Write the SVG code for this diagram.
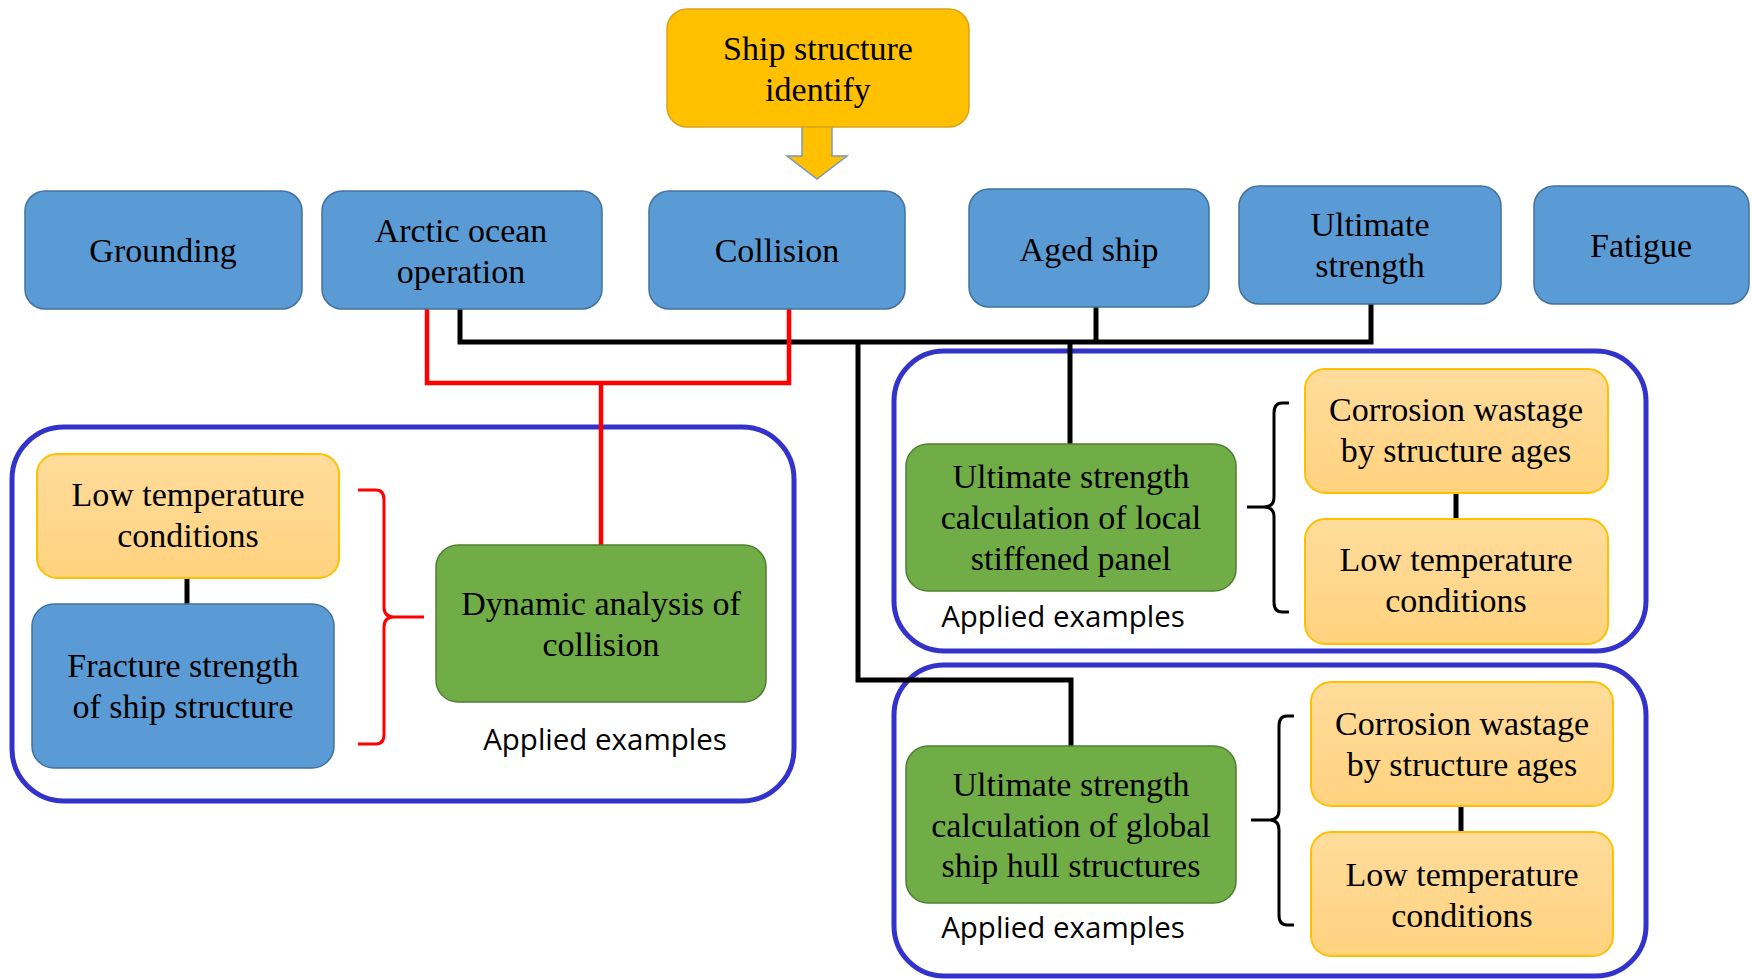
<svg xmlns="http://www.w3.org/2000/svg" width="1752" height="979" viewBox="0 0 1752 979">
<style>
.t{font-family:"Liberation Serif","Times New Roman",serif;font-size:34px;fill:#000;text-anchor:middle}
.a{font-family:"Open Sans","Noto Sans",sans-serif;font-size:29.5px;fill:#000;text-anchor:middle}
.blue{fill:#5B9BD5;stroke:#41719C;stroke-width:1.5}
.green{fill:#70AD47;stroke:#507E32;stroke-width:1.5}
.org{fill:url(#og);stroke:#FFC000;stroke-width:2}
.cont{fill:none;stroke:#3333CC;stroke-width:5}
.blk{fill:none;stroke:#000;stroke-width:5}
.red{fill:none;stroke:#FF0000;stroke-width:4.5}
</style>
<defs>
<linearGradient id="og" x1="0" y1="0" x2="0" y2="1">
<stop offset="0" stop-color="#FFDC9C"/>
<stop offset="1" stop-color="#FFD27E"/>
</linearGradient>
</defs>
<rect width="1752" height="979" fill="#fff"/>

<g id="containers">
<rect class="cont" x="12" y="427" width="782" height="374" rx="52"/>
<rect class="cont" x="894" y="351" width="752" height="300" rx="50"/>
<rect class="cont" x="894" y="665" width="752" height="311" rx="50"/>
</g>

<g id="connectors">
<path class="blk" d="M460,309 V342 H1371 V304"/>
<path class="blk" d="M1096,307 V342"/>
<path class="blk" d="M858,342 V680 H1071 V746"/>
<path class="blk" d="M1070,342 V444"/>
<path class="blk" d="M187,578 V604"/>
<path class="blk" d="M1456,493 V519"/>
<path class="blk" d="M1461,806 V832"/>
<path class="red" d="M427,309 V383 H789 V309"/>
<path class="red" d="M601,383 V545"/>
<path fill="none" stroke="#FF0000" stroke-width="3" d="M358,490 H376 Q384,490 384,500 V607 Q384,617 394,617 H424 M394,617 Q384,617 384,627 V734 Q384,744 376,744 H358"/>
<path fill="none" stroke="#000" stroke-width="3" d="M1289,403 H1282 Q1274,403 1274,413 V497 Q1274,507 1264,507 H1247 M1264,507 Q1274,507 1274,517 V602 Q1274,612 1282,612 H1289"/>
<path fill="none" stroke="#000" stroke-width="3" d="M1294,716 H1287 Q1279,716 1279,726 V810 Q1279,820 1269,820 H1251 M1269,820 Q1279,820 1279,830 V915 Q1279,925 1287,925 H1294"/>
<polygon points="802,126 832,126 832,156 847,156 817,179 787,156 802,156" fill="#FFC000" stroke="#7C99B8" stroke-width="1.5"/>
</g>

<g id="ship-structure-identify">
<rect x="667" y="9" width="302" height="118" rx="20" fill="#FFC000" stroke="#D9A21B" stroke-width="1.5"/>
<text class="t" x="818" y="60">Ship structure</text>
<text class="t" x="818" y="101">identify</text>
</g>

<g id="grounding">
<rect class="blue" x="25" y="191" width="277" height="118" rx="20"/>
<text class="t" x="163" y="262">Grounding</text>
</g>
<g id="arctic">
<rect class="blue" x="322" y="191" width="280" height="118" rx="20"/>
<text class="t" x="461" y="242">Arctic ocean</text>
<text class="t" x="461" y="283">operation</text>
</g>
<g id="collision">
<rect class="blue" x="649" y="191" width="256" height="118" rx="20"/>
<text class="t" x="777" y="262">Collision</text>
</g>
<g id="aged-ship">
<rect class="blue" x="969" y="189" width="240" height="118" rx="20"/>
<text class="t" x="1089" y="261">Aged ship</text>
</g>
<g id="ultimate-strength">
<rect class="blue" x="1239" y="186" width="262" height="118" rx="20"/>
<text class="t" x="1370" y="236">Ultimate</text>
<text class="t" x="1370" y="277">strength</text>
</g>
<g id="fatigue">
<rect class="blue" x="1534" y="186" width="215" height="118" rx="20"/>
<text class="t" x="1641" y="257">Fatigue</text>
</g>

<g id="low-temp-left">
<rect class="org" x="37" y="454" width="302" height="124" rx="20"/>
<text class="t" x="188" y="506">Low temperature</text>
<text class="t" x="188" y="547">conditions</text>
</g>
<g id="fracture-strength">
<rect class="blue" x="32" y="604" width="302" height="164" rx="22"/>
<text class="t" x="183" y="677">Fracture strength</text>
<text class="t" x="183" y="718">of ship structure</text>
</g>
<g id="dynamic-analysis">
<rect class="green" x="436" y="545" width="330" height="157" rx="22"/>
<text class="t" x="601" y="615">Dynamic analysis of</text>
<text class="t" x="601" y="656">collision</text>
<text class="a" x="605" y="750">Applied examples</text>
</g>

<g id="local-panel">
<rect class="green" x="906" y="444" width="330" height="147" rx="22"/>
<text class="t" x="1071" y="488">Ultimate strength</text>
<text class="t" x="1071" y="529">calculation of local</text>
<text class="t" x="1071" y="570">stiffened panel</text>
<text class="a" x="1063" y="627">Applied examples</text>
</g>
<g id="corrosion-upper">
<rect class="org" x="1305" y="369" width="303" height="124" rx="20"/>
<text class="t" x="1456" y="421">Corrosion wastage</text>
<text class="t" x="1456" y="462">by structure ages</text>
</g>
<g id="low-temp-upper">
<rect class="org" x="1305" y="519" width="303" height="125" rx="20"/>
<text class="t" x="1456" y="571">Low temperature</text>
<text class="t" x="1456" y="612">conditions</text>
</g>

<g id="global-hull">
<rect class="green" x="906" y="746" width="330" height="157" rx="22"/>
<text class="t" x="1071" y="796">Ultimate strength</text>
<text class="t" x="1071" y="837">calculation of global</text>
<text class="t" x="1071" y="877">ship hull structures</text>
<text class="a" x="1063" y="938">Applied examples</text>
</g>
<g id="corrosion-lower">
<rect class="org" x="1311" y="682" width="302" height="124" rx="20"/>
<text class="t" x="1462" y="735">Corrosion wastage</text>
<text class="t" x="1462" y="776">by structure ages</text>
</g>
<g id="low-temp-lower">
<rect class="org" x="1311" y="832" width="302" height="124" rx="20"/>
<text class="t" x="1462" y="886">Low temperature</text>
<text class="t" x="1462" y="927">conditions</text>
</g>
</svg>
